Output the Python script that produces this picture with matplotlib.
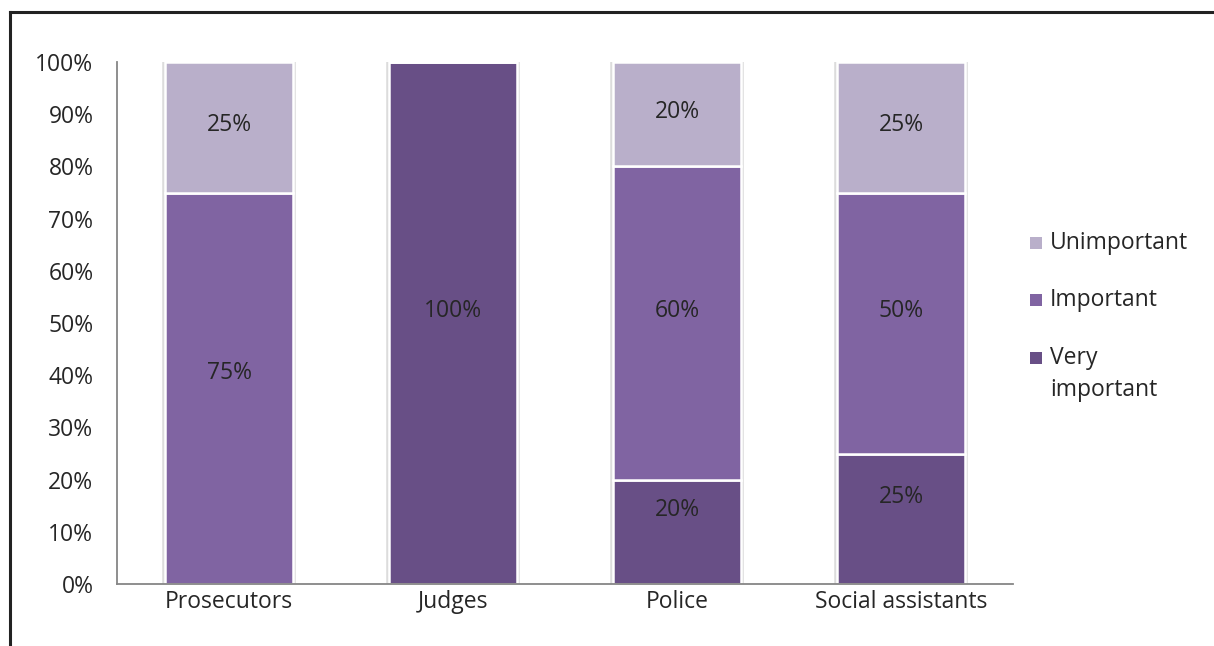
import matplotlib
matplotlib.use("Agg")
import matplotlib.pyplot as plt
import numpy as np
from matplotlib.patches import Rectangle
from matplotlib.lines import Line2D

categories = ["Prosecutors", "Judges", "Police", "Social assistants"]
very_important = [0, 100, 20, 25]
important = [75, 0, 60, 50]
unimportant = [25, 0, 20, 25]
series_names = ["Very\nimportant", "Important", "Unimportant"]
colors = ["#684F86", "#8064A2", "#B9AFCA"]
yticks = [0, 10, 20, 30, 40, 50, 60, 70, 80, 90, 100]

plt.rcParams['font.family'] = ['Open Sans', 'DejaVu Sans']
FS = 16.5
TXT = "#262626"
W, H = 1214, 646

fig = plt.figure(figsize=(W / 100, H / 100), dpi=100)
ax = fig.add_axes([117 / W, 62 / H, (1013 - 117) / W, (584 - 62) / H])

x = np.arange(len(categories))
width = 0.567
series = [very_important, important, unimportant]
totals = np.sum(np.array(series, dtype=float), axis=0)

# soft shadow outline around each stacked column
ax.bar(x, totals, width, facecolor="none", edgecolor="#DCDCDC", linewidth=4, zorder=2)

bottom = np.zeros(len(categories))
for vals, col in zip(series, colors):
    vals = np.array(vals, dtype=float)
    ax.bar(x, vals, width, bottom=bottom, color=col, edgecolor="white",
           linewidth=1.8, zorder=3)
    for xi, v, b in zip(x, vals, bottom):
        if v > 0:
            c = b + v / 2
            # the source places labels on a slightly compressed vertical scale
            ax.text(xi, 4.7 + 0.952 * c, f"{int(v)}%", ha="center", va="center",
                    fontsize=FS, color=TXT, zorder=4)
    bottom += vals

ax.set_xlim(-0.5, len(categories) - 0.5)
ax.set_ylim(0, 100)
ax.set_yticks(yticks)
ax.set_yticklabels([f"{t}%" for t in yticks], fontsize=FS, color=TXT)
ax.set_xticks(x)
ax.set_xticklabels(categories, fontsize=FS, color=TXT)
ax.tick_params(axis="both", length=0)
ax.tick_params(axis="y", pad=17)
ax.tick_params(axis="x", pad=4.5)
for s in ["top", "right"]:
    ax.spines[s].set_visible(False)
for s in ["left", "bottom"]:
    ax.spines[s].set_color("#868686")
    ax.spines[s].set_linewidth(1.3)
    ax.spines[s].set_zorder(5)

# legend (drawn manually so the marker aligns with the first line of a wrapped label)
row_y = [243, 300, 358]
line_step = 32
for yc, name, col in zip(row_y, series_names[::-1], colors[::-1]):
    fig.add_artist(Rectangle((1030 / W, 1 - (yc + 6) / H), 12 / W, 12 / H,
                             facecolor=col, edgecolor="none",
                             transform=fig.transFigure))
    for k, line in enumerate(name.split("\n")):
        fig.text(1050 / W, 1 - (yc + k * line_step) / H, line, fontsize=FS,
                 color=TXT, ha="left", va="center")

# outer frame (top and left)
fig.add_artist(Line2D([10 / W, 1], [1 - 12 / H, 1 - 12 / H], color="#222222",
                      linewidth=2.2, transform=fig.transFigure))
fig.add_artist(Line2D([10 / W, 10 / W], [0, 1 - 12 / H], color="#222222",
                      linewidth=2.2, transform=fig.transFigure))

fig.savefig("out.png", dpi=100, facecolor="white")
